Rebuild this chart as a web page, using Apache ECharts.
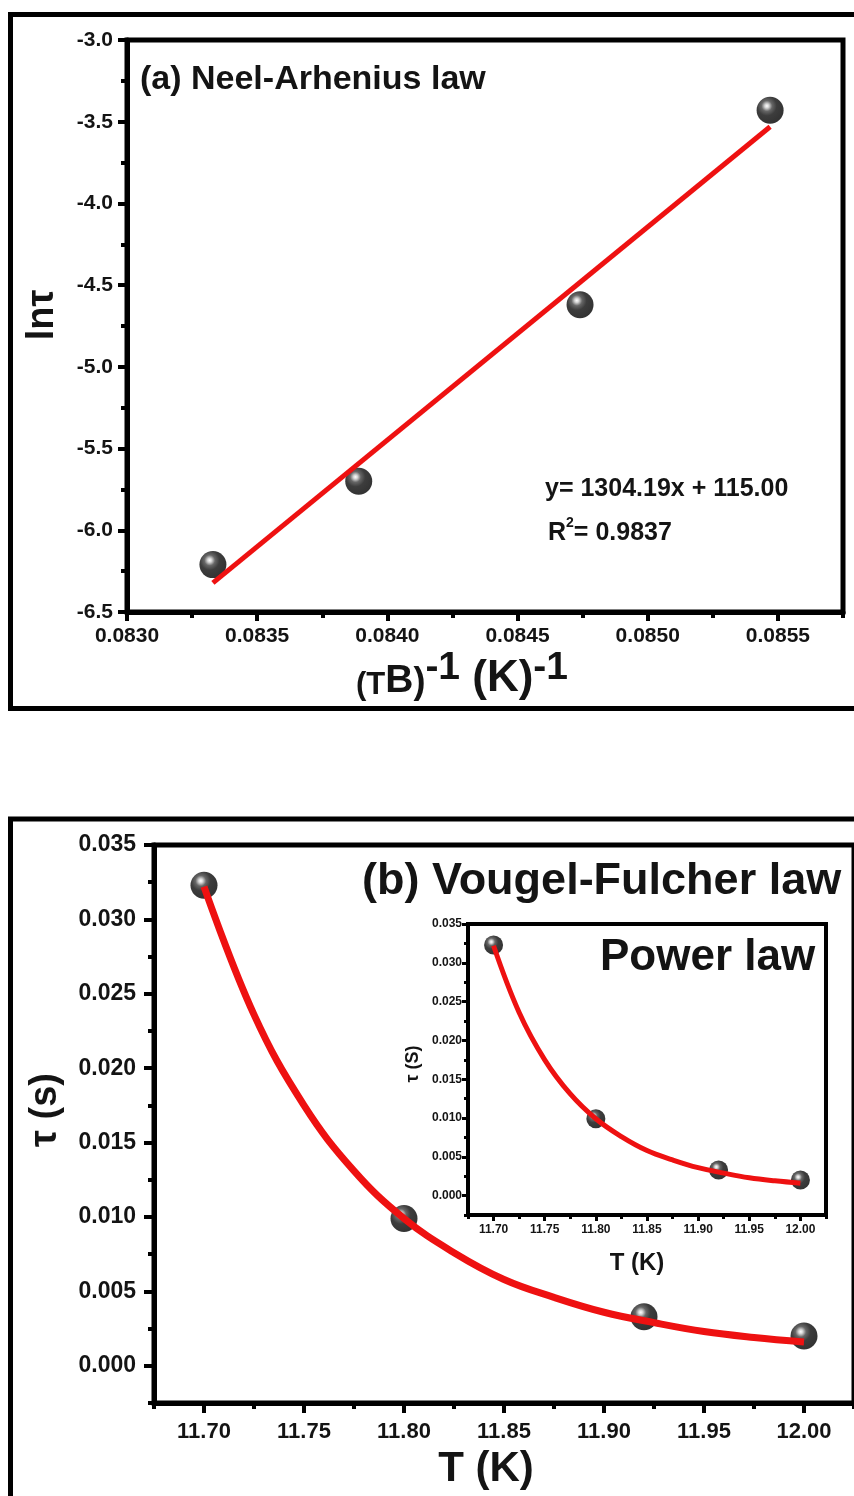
<!DOCTYPE html>
<html>
<head>
<meta charset="utf-8">
<script src="https://cdn.jsdelivr.net/npm/echarts@6/dist/echarts.min.js"></script>
<style>
  html, body { margin: 0; padding: 0; background: #fff; }
  #chart { width: 854px; height: 1496px; }
</style>
</head>
<body>
<div id="chart"></div>
<script>
// Measured relaxation data (four blocking temperatures)
const tempK = [12.00, 11.92, 11.80, 11.70];
const tauS = [0.0020, 0.0033, 0.0099, 0.0323];

// Neel-Arrhenius representation: inverse temperature vs ln(tau)
const invTemp = [0.08333, 0.08389, 0.08474, 0.08547];
const lnTau = [-6.21, -5.70, -4.62, -3.43];

// Linear fit of ln(tau) vs 1/T
const fitSlope = 1304.19;
const fitIntercept = -115.00;

// Vogel-Fulcher / power-law fitted curve, sampled along T
const curveT = [11.700, 11.725, 11.750, 11.775, 11.800, 11.825, 11.850, 11.875, 11.900, 11.925, 11.950, 11.975, 12.000];
const curveTau = [0.0322, 0.0236, 0.0175, 0.0131, 0.0099, 0.0076, 0.0058, 0.0046, 0.0036, 0.0029, 0.0023, 0.0019, 0.0016];

// Tick labels
const topXTicks = [0.0830, 0.0835, 0.0840, 0.0845, 0.0850, 0.0855];
const topYTicks = [-6.5, -6.0, -5.5, -5.0, -4.5, -4.0, -3.5, -3.0];
const tempTicks = [11.70, 11.75, 11.80, 11.85, 11.90, 11.95, 12.00];
const tauTicks = [0.000, 0.005, 0.010, 0.015, 0.020, 0.025, 0.030, 0.035];

const FONT = "'Liberation Sans', Arial, Helvetica, sans-serif";
const RED = '#ee1111';
const INK = '#141414';

const sphere = {
  type: 'radial', x: 0.38, y: 0.34, r: 0.66,
  colorStops: [
    { offset: 0, color: '#ffffff' },
    { offset: 0.12, color: '#c8c8c8' },
    { offset: 0.3, color: '#404040' },
    { offset: 0.55, color: '#0c0c0c' },
    { offset: 1, color: '#000000' }
  ]
};

function majorAxis(opts) {
  return {
    type: 'value',
    gridIndex: opts.grid,
    position: opts.position,
    min: opts.min, max: opts.max, interval: opts.step,
    splitLine: { show: false },
    axisLine: { show: true, onZero: false, lineStyle: { color: '#000', width: opts.lw } },
    axisTick: { show: true, customValues: opts.ticks, length: opts.major, lineStyle: { color: '#000', width: opts.tw } },
    axisLabel: {
      customValues: opts.ticks, margin: opts.margin,
      fontFamily: FONT, fontWeight: 'bold', fontSize: opts.fs, color: INK,
      formatter: v => Number(v).toFixed(opts.dec)
    }
  };
}
function minorAxis(opts) {
  return {
    type: 'value',
    gridIndex: opts.grid,
    position: opts.position,
    min: opts.min, max: opts.max, interval: opts.step,
    splitLine: { show: false },
    axisLine: { show: false, onZero: false },
    axisTick: { show: true, length: opts.minor, lineStyle: { color: '#000', width: opts.tw } },
    axisLabel: { show: false }
  };
}

const topX = { grid: 0, position: 'bottom', min: 0.0830, max: 0.08575, step: 0.00025, ticks: topXTicks, lw: 5, tw: 4, major: 9, minor: 6, margin: 14, fs: 21, dec: 4 };
const topY = { grid: 0, position: 'left', min: -6.5, max: -3.0, step: 0.25, ticks: topYTicks, lw: 5, tw: 4, major: 9, minor: 6, margin: 14, fs: 21, dec: 1 };
const botX = { grid: 1, position: 'bottom', min: 11.675, max: 12.025, step: 0.025, ticks: tempTicks, lw: 5, tw: 4, major: 10, minor: 6, margin: 18, fs: 22, dec: 2 };
const botY = { grid: 1, position: 'left', min: -0.0025, max: 0.035, step: 0.0025, ticks: tauTicks, lw: 5, tw: 4, major: 10, minor: 6, margin: 18, fs: 23, dec: 3 };
const insX = { grid: 2, position: 'bottom', min: 11.675, max: 12.025, step: 0.025, ticks: tempTicks, lw: 4, tw: 3, major: 6, minor: 4, margin: 9, fs: 12, dec: 2 };
const insY = { grid: 2, position: 'left', min: -0.0025, max: 0.035, step: 0.0025, ticks: tauTicks, lw: 4, tw: 3, major: 6, minor: 4, margin: 6, fs: 12, dec: 3 };

const fitLine = [invTemp[0], invTemp[invTemp.length - 1]].map(x => [x, fitSlope * x + fitIntercept]);
const zip = (a, b) => a.map((v, i) => [v, b[i]]);

const txt = (x, y, text, size, extra) => Object.assign({
  type: 'text', x: x, y: y, z: 50,
  style: Object.assign({ text: text, fontFamily: FONT, fontWeight: 'bold', fontSize: size, fill: INK, align: 'left', verticalAlign: 'middle' }, (extra && extra.style) || {})
}, extra && extra.rotation !== undefined ? { rotation: extra.rotation } : {});

const rs = (size, lh, va) => ({ fontFamily: FONT, fontWeight: 'bold', fontSize: size, fill: INK, lineHeight: lh, verticalAlign: va });

const option = {
  backgroundColor: '#ffffff',
  animation: false,
  grid: [
    { left: 127, top: 40, width: 716, height: 572, show: true, borderColor: '#000', borderWidth: 5, backgroundColor: 'transparent' },
    { left: 154, top: 845, width: 702, height: 558, show: true, borderColor: '#000', borderWidth: 5, backgroundColor: 'transparent' },
    { left: 468, top: 924, width: 358, height: 291, show: true, borderColor: '#000', borderWidth: 4, backgroundColor: '#ffffff' }
  ],
  xAxis: [majorAxis(topX), minorAxis(topX), majorAxis(botX), minorAxis(botX), majorAxis(insX), minorAxis(insX)],
  yAxis: [majorAxis(topY), minorAxis(topY), majorAxis(botY), minorAxis(botY), majorAxis(insY), minorAxis(insY)],
  series: [
    { type: 'scatter', xAxisIndex: 0, yAxisIndex: 0, data: zip(invTemp, lnTau), symbolSize: 27, itemStyle: { color: sphere }, z: 2 },
    { type: 'line', xAxisIndex: 0, yAxisIndex: 0, data: fitLine, showSymbol: false, lineStyle: { color: RED, width: 5 }, z: 3 },
    { type: 'scatter', xAxisIndex: 2, yAxisIndex: 2, data: zip(tempK, tauS), symbolSize: 27, itemStyle: { color: sphere }, z: 2 },
    { type: 'line', xAxisIndex: 2, yAxisIndex: 2, data: zip(curveT, curveTau), smooth: 0.4, showSymbol: false, lineStyle: { color: RED, width: 7 }, z: 3 },
    { type: 'scatter', xAxisIndex: 4, yAxisIndex: 4, data: zip(tempK, tauS), symbolSize: 19, itemStyle: { color: sphere }, z: 6 },
    { type: 'line', xAxisIndex: 4, yAxisIndex: 4, data: zip(curveT, curveTau), smooth: 0.4, showSymbol: false, lineStyle: { color: RED, width: 5 }, z: 7 }
  ],
  graphic: [
    // panel frames
    { type: 'rect', z: 40, shape: { x: 10.5, y: 14.5, width: 900, height: 694 }, style: { fill: 'none', stroke: '#000', lineWidth: 5 } },
    { type: 'rect', z: 40, shape: { x: 10.5, y: 819, width: 900, height: 800 }, style: { fill: 'none', stroke: '#000', lineWidth: 5 } },

    // panel (a) texts
    txt(140, 80, '(a) Neel-Arhenius law', 34),
    txt(545, 489, 'y= 1304.19x + 115.00', 25),
    txt(548, 531, '{r|R}{s|2}{r|= 0.9837}', 25, { style: { rich: { r: rs(25, 30, 'bottom'), s: rs(14, 18, 'top') } } }),
    txt(43, 315, 'lnτ', 38, { rotation: Math.PI / 2, style: { align: 'center' } }),
    txt(462, 675, '{a|(T}{b|B}{c|)}{d|-1}{e| (K)}{d|-1}', 30, { style: { align: 'center', rich: {
      a: rs(31, 40, 'bottom'),
      b: rs(39, 30, 'bottom'),
      c: rs(36, 44, 'bottom'),
      d: rs(39, 20, 'top'),
      e: rs(44, 52, 'bottom')
    } } }),

    // panel (b) texts
    txt(362, 882, '(b) Vougel-Fulcher law', 45),
    txt(46, 1110, 'τ (s)', 38, { rotation: Math.PI / 2, style: { align: 'center' } }),
    txt(486, 1469, 'T (K)', 42, { style: { align: 'center' } }),

    // inset texts
    txt(600, 958, 'Power law', 44),
    txt(413, 1064, 'τ (S)', 18, { rotation: Math.PI / 2, style: { align: 'center' } }),
    txt(637, 1263, 'T (K)', 24, { style: { align: 'center' } })
  ]
};

const chart = echarts.init(document.getElementById('chart'), null, { renderer: 'canvas' });
chart.setOption(option);
</script>
</body>
</html>
